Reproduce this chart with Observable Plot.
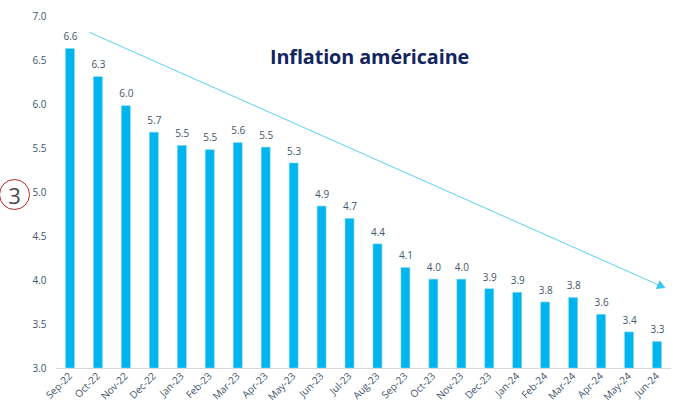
<!DOCTYPE html>
<html>
<head>
<meta charset="utf-8">
<script src="https://cdn.jsdelivr.net/npm/d3@7"></script>
<script src="https://cdn.jsdelivr.net/npm/@observablehq/plot@0.6"></script>
<style>
  body { margin: 0; background: #fff; }
  #wrap { position: relative; width: 677px; height: 413px; font-family: "Open Sans", sans-serif; }
  #title { position: absolute; left: 270px; top: 43px; font: bold 19.8px "Open Sans", sans-serif; color: #13245f; white-space: nowrap; letter-spacing: -0.1px; }
  #badge { position: absolute; left: -1px; top: 179px; width: 31px; height: 31px; border: 1.3px solid #c0282d; border-radius: 50%; box-sizing: border-box; text-align: center; line-height: 28px; font: 22px "Open Sans", sans-serif; color: #4a4a4a; }
</style>
</head>
<body>
<div id="wrap">
  <div id="chart"></div>
  <div id="title">Inflation américaine</div>
  <div id="badge">3</div>
</div>
<script>
const months = ["Sep-22","Oct-22","Nov-22","Dec-22","Jan-23","Feb-23","Mar-23","Apr-23","May-23","Jun-23","Jul-23","Aug-23","Sep-23","Oct-23","Nov-23","Dec-23","Jan-24","Feb-24","Mar-24","Apr-24","May-24","Jun-24"];
const values = [6.63,6.31,5.98,5.68,5.53,5.48,5.56,5.51,5.33,4.84,4.70,4.41,4.14,4.01,4.01,3.90,3.86,3.75,3.80,3.61,3.41,3.30];
const labels = ["6.6","6.3","6.0","5.7","5.5","5.5","5.6","5.5","5.3","4.9","4.7","4.4","4.1","4.0","4.0","3.9","3.9","3.8","3.8","3.6","3.4","3.3"];
const yTicks = [3.0,3.5,4.0,4.5,5.0,5.5,6.0,6.5,7.0];
const trendArrow = [{x1: 0.68, y1: 6.82, x2: 21.1, y2: 3.94}];

const data = months.map((m, i) => ({i, month: m, value: values[i], label: labels[i]}));
const halfWidth = 0.16;

const plot = Plot.plot({
  width: 677,
  height: 413,
  marginLeft: 56,
  marginRight: 6,
  marginTop: 16,
  marginBottom: 45,
  style: {background: "transparent", fontFamily: "Open Sans, sans-serif", overflow: "visible"},
  x: {domain: [-0.5, 21.5], axis: null},
  y: {domain: [3, 7], axis: null},
  marks: [
    Plot.axisY({ticks: yTicks, tickFormat: d => d.toFixed(1), tickSize: 0, tickPadding: 10, fontSize: 10, color: "#44546a"}),
    Plot.axisX({ticks: d3.range(months.length), tickFormat: i => months[i], tickSize: 0, tickPadding: 6, tickRotate: -45, fontSize: 10, color: "#44546a", textAnchor: "end"}),
    Plot.rect(data, {x1: d => d.i - halfWidth, x2: d => d.i + halfWidth, y1: 3, y2: "value", fill: "#00b4ee", stroke: "#7fd8f7", strokeWidth: 0.6}),
    Plot.ruleY([3], {stroke: "#d9d9d9", strokeWidth: 1.2}),
    Plot.text(data, {x: "i", y: "value", text: "label", dy: -12, fontSize: 10, fill: "#44546a"}),
    Plot.link(trendArrow, {x1: "x1", y1: "y1", x2: "x2", y2: "y2", stroke: "#5cd0f2", strokeWidth: 1}),
    Plot.dot(trendArrow, {x: "x2", y: "y2", symbol: "triangle", r: 3.6, fill: "#3cc6f0", stroke: "none", rotate: 114})
  ]
});
document.getElementById("chart").appendChild(plot);
</script>
</body>
</html>
